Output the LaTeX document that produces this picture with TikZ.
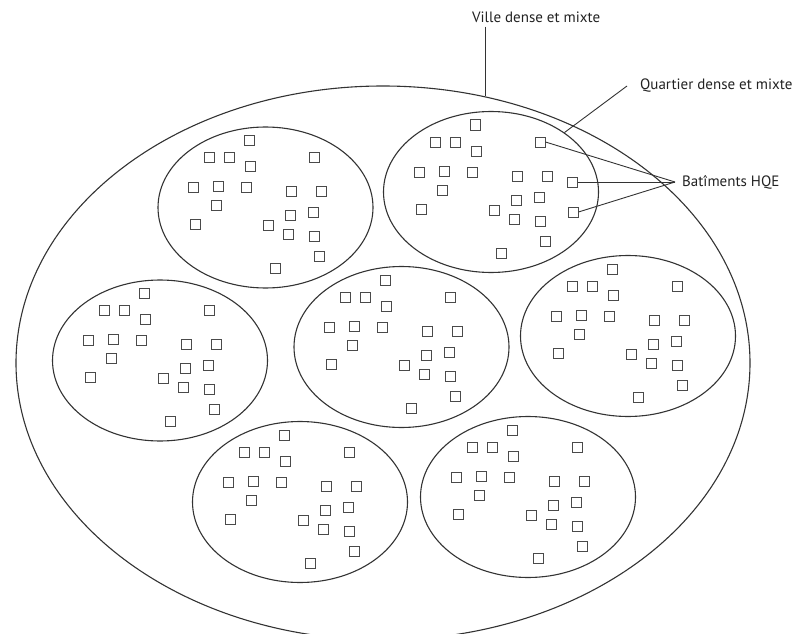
\documentclass[tikz,border=0pt]{standalone}
\usepackage{fontspec}
\setmainfont{PT Sans}
\usetikzlibrary{shapes.geometric}
\definecolor{cline}{HTML}{333333}
\definecolor{csq}{HTML}{4A4A4A}
\definecolor{ctext}{HTML}{222222}

\begin{document}
\begin{tikzpicture}[x=1pt, y=-1pt,
  city/.style={ellipse, draw=cline, line width=1.1pt, minimum width=734pt, minimum height=554pt, inner sep=0pt},
  quartier/.style={ellipse, draw=cline, line width=1.1pt, minimum width=215pt, minimum height=161pt, inner sep=0pt},
  bld/.style={rectangle, draw=csq, line width=1pt, minimum size=10pt, inner sep=0pt},
  lead/.style={draw=cline, line width=0.9pt},
  lbl/.style={text=ctext, font=\fontsize{15}{17}\selectfont, inner sep=0pt}
]
\clip (0,0) rectangle (796,634);
% city outline
\node[city] (city) at (383,363) {};

% districts, each with the same set of buildings
\foreach \name/\cx/\cy in {q1/491/192, q2/265.5/207.5, q3/160/360.5, q4/401.5/347,
                           q5/628/336, q6/300/502, q7/528/497} {
  \node[quartier] (\name) at (\cx,\cy) {};
  \foreach \dx/\dy [count=\i] in {-16/-67, -56/-50, -36/-50, -15/-41, 49/-50,
      -72/-20, -47/-21, -19/-20, 26/-16, 56/-16, -49/-2, 25/8, 48/5,
      -70/17, 3/18, 23/27, 49/29, 54/49, 10/61}
    \node[bld] (\name-s\i) at (\cx+\dx,\cy+\dy) {};
}
% extra buildings
\node[bld] (q1-x1) at (572.5,182) {};
\node[bld] (q1-x2) at (573,212) {};

% labels
\node[lbl, anchor=west] (ville) at (472,17) {Ville dense et mixte};
\node[lbl, anchor=west] (quartier) at (640,86) {Quartier dense et mixte};
\node[lbl, anchor=west] (hqe) at (682,182) {Batîments HQE};
\coordinate (hqe-tip) at ([xshift=-7pt]hqe.west);

\draw[lead] (ville.south -| city.69.4) ++(0,4) -- (city.69.4);
\draw[lead] ([xshift=-13pt]quartier.west) -- (q1.39);
\foreach \b in {q1-s5, q1-x1, q1-x2}
  \draw[lead] (\b.east) -- (hqe-tip);
\end{tikzpicture}
\end{document}
